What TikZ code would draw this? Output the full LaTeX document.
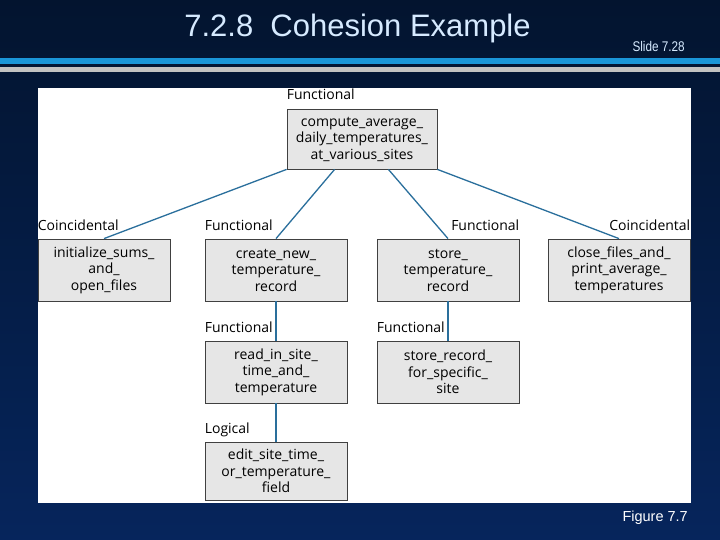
\documentclass[tikz,border=0pt]{standalone}
\usepackage{fontspec}
\setmainfont{Open Sans}
\newfontfamily\slidefont{Liberation Sans}
\newfontfamily\narrowfont[FakeStretch=0.84]{Liberation Sans}
\usetikzlibrary{calc}
\definecolor{navytop}{HTML}{03142F}
\definecolor{navybot}{HTML}{06255C}
\definecolor{stripeblue}{HTML}{1A96D8}
\definecolor{stripegray}{HTML}{C2C2C2}
\definecolor{titlefg}{HTML}{D6EAFF}
\definecolor{linkblue}{HTML}{2A6F9C}
\definecolor{boxgray}{HTML}{E6E6E6}
\begin{document}
\begin{tikzpicture}[x=1pt,y=-1pt,
    module/.style={draw=black!75,fill=boxgray,line width=0.8pt,inner sep=0pt,
        align=center,font=\fontsize{14}{16.5}\selectfont,
        minimum width=142pt,minimum height=62pt},
    kind/.style={font=\fontsize{14}{16}\selectfont,inner sep=0pt},
    link/.style={draw=linkblue,line width=1.3pt}]
    \useasboundingbox (0,0) rectangle (720,540);
    % slide background
    \shade[top color=navytop,bottom color=navybot] (0,0) rectangle (720,540);
    \fill[stripeblue] (0,57.7) rectangle (720,64.3);
    \fill[stripegray] (0,67.3) rectangle (720,71.7);
    \node[anchor=base,text=titlefg,font=\slidefont\fontsize{31}{31}\selectfont,inner sep=0pt]
        (title) at (357.5,37) {7.2.8~~Cohesion Example};
    \node[anchor=base east,text=titlefg,font=\narrowfont\fontsize{14}{14}\selectfont,inner sep=0pt]
        (slideno) at (685,52) {Slide 7.28};
    \node[anchor=base east,text=white,font=\slidefont\fontsize{14.5}{14.5}\selectfont,inner sep=0pt]
        (fig) at (688,521) {Figure 7.7};
    \fill[white] (38,88) rectangle (691,503);

    % modules
    \node[module,minimum width=150pt,minimum height=60pt] (top) at (362,139)
        {compute\_average\_\\daily\_temperatures\_\\at\_various\_sites};
    \node[module,minimum width=132pt] (init) at (104,270) {initialize\_sums\_\\and\_\\open\_files};
    \node[module] (create) at (276,270) {create\_new\_\\temperature\_\\record};
    \node[module] (store) at (448,270) {store\_\\temperature\_\\record};
    \node[module] (close) at (619,270) {close\_files\_and\_\\print\_average\_\\temperatures};
    \node[module] (read) at (276,372) {read\_in\_site\_\\time\_and\_\\temperature};
    \node[module] (storesite) at (448,372) {store\_record\_\\for\_specific\_\\site};
    \node[module,minimum height=58pt] (edit) at (276,471) {edit\_site\_time\_\\or\_temperature\_\\field};

    % cohesion labels
    \node[kind,anchor=base west] (ktop) at ([yshift=9pt]top.north west) {Functional};
    \node[kind,anchor=base west] (kinit) at ([yshift=8pt]init.north west) {Coincidental};
    \node[kind,anchor=base west] (kcreate) at ([yshift=8pt]create.north west) {Functional};
    \node[kind,anchor=base east] (kstore) at ([yshift=8pt]store.north east) {Functional};
    \node[kind,anchor=base east] (kclose) at ([yshift=8pt]close.north east) {Coincidental};
    \node[kind,anchor=base west] (kread) at ([yshift=8pt]read.north west) {Functional};
    \node[kind,anchor=base west] (kstoresite) at ([yshift=8pt]storesite.north west) {Functional};
    \node[kind,anchor=base west] (kedit) at ([yshift=8pt]edit.north west) {Logical};

    % calls
    \draw[link] (top.south west) -- (init.north);
    \draw[link] ([xshift=48pt]top.south west) -- (create.north);
    \draw[link] ([xshift=-49pt]top.south east) -- (store.north);
    \draw[link] (top.south east) -- (close.north);
    \draw[link] (create) -- (read);
    \draw[link] (store) -- (storesite);
    \draw[link] (read) -- (edit);
\end{tikzpicture}
\end{document}
